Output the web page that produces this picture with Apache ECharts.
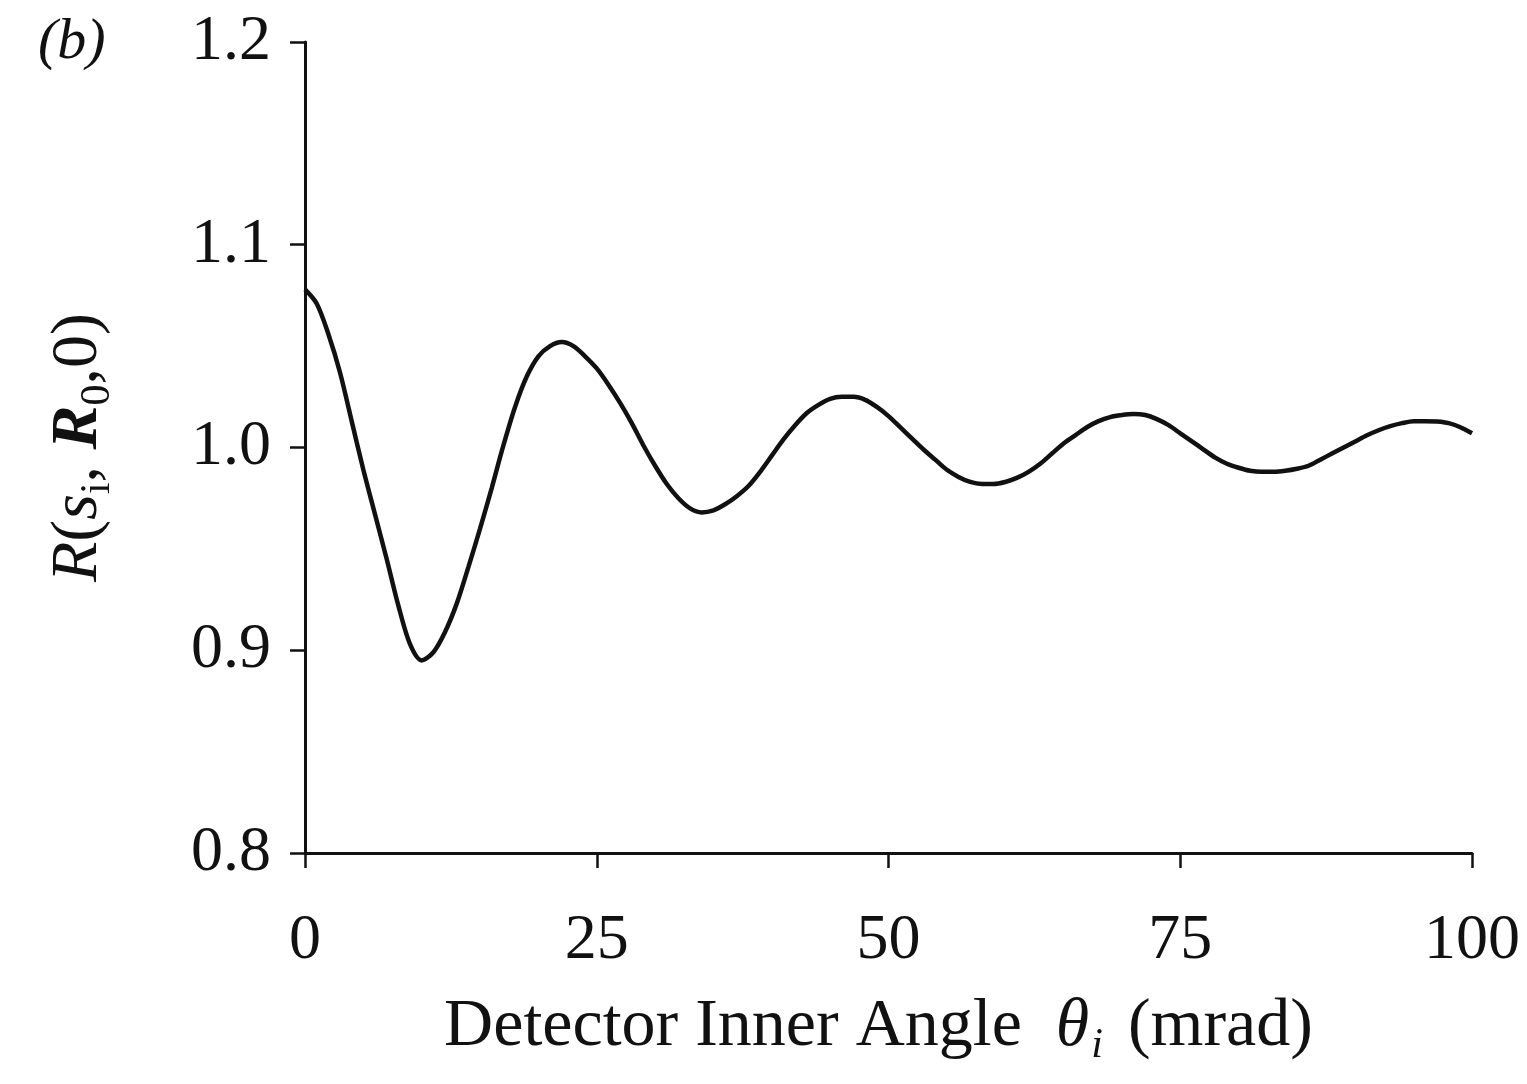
<!DOCTYPE html>
<html>
<head>
<meta charset="utf-8">
<title>R(s_i, R_0, 0) vs detector inner angle</title>
<script src="https://cdn.jsdelivr.net/npm/echarts@6/dist/echarts.min.js"></script>
<style>
  html, body { margin: 0; padding: 0; background: #ffffff; }
  #chart { width: 1527px; height: 1084px; }
</style>
</head>
<body>
<div id="chart"></div>
<script>
// Detector inner angle θi (mrad), one sample per mrad
const angle = [
  0, 1, 2, 3, 4, 5, 6, 7, 8, 9,
  10, 11, 12, 13, 14, 15, 16, 17, 18, 19,
  20, 21, 22, 23, 24, 25, 26, 27, 28, 29,
  30, 31, 32, 33, 34, 35, 36, 37, 38, 39,
  40, 41, 42, 43, 44, 45, 46, 47, 48, 49,
  50, 51, 52, 53, 54, 55, 56, 57, 58, 59,
  60, 61, 62, 63, 64, 65, 66, 67, 68, 69,
  70, 71, 72, 73, 74, 75, 76, 77, 78, 79,
  80, 81, 82, 83, 84, 85, 86, 87, 88, 89,
  90, 91, 92, 93, 94, 95, 96, 97, 98, 99,
  100
];
// R(s_i, R_0, 0) at each angle
const ratio = [
  1.078, 1.071, 1.056, 1.037, 1.013, 0.989, 0.967, 0.945, 0.922, 0.903,
  0.895, 0.899, 0.909, 0.923, 0.941, 0.960, 0.980, 1.001, 1.020, 1.035,
  1.045, 1.050, 1.052, 1.050, 1.045, 1.039, 1.031, 1.022, 1.012, 1.001,
  0.991, 0.982, 0.975, 0.970, 0.968, 0.969, 0.972, 0.976, 0.981, 0.988,
  0.996, 1.004, 1.011, 1.017, 1.021, 1.024, 1.025, 1.025, 1.0235, 1.020,
  1.0155, 1.010, 1.0045, 0.999, 0.994, 0.989, 0.9855, 0.983, 0.982, 0.982,
  0.983, 0.985, 0.988, 0.992, 0.997, 1.002, 1.006, 1.010, 1.013, 1.015,
  1.016, 1.0165, 1.016, 1.014, 1.011, 1.007, 1.003, 0.999, 0.995, 0.992,
  0.990, 0.9885, 0.988, 0.988, 0.9885, 0.9895, 0.991, 0.994, 0.997, 1.000,
  1.003, 1.006, 1.0085, 1.0105, 1.012, 1.013, 1.013, 1.0128, 1.012, 1.010,
  1.007
];
// Axis ticks
const xTicks = [0, 25, 50, 75, 100];
const yTicks = [0.8, 0.9, 1.0, 1.1, 1.2];

const serif = '"Liberation Serif", "DejaVu Serif", serif';
const ink = '#111111';

const chart = echarts.init(document.getElementById('chart'), null, { renderer: 'canvas' });

chart.setOption({
  backgroundColor: '#ffffff',
  animation: false,
  grid: { left: 305, right: 55, top: 42, bottom: 231 },
  graphic: [{
    type: 'text',
    left: 38,
    top: 14,
    style: {
      text: '(b)',
      fontFamily: serif,
      fontStyle: 'italic',
      fontSize: 58,
      fill: ink
    }
  }],
  xAxis: {
    type: 'value',
    min: xTicks[0],
    max: xTicks[xTicks.length - 1],
    interval: 25,
    axisLine: { show: true, onZero: false, lineStyle: { color: ink, width: 3 } },
    axisTick: { show: true, inside: false, length: 15, lineStyle: { color: ink, width: 2.5 } },
    splitLine: { show: false },
    axisLabel: {
      margin: 56,
      color: ink,
      fontFamily: serif,
      fontSize: 64,
      formatter: v => String(v)
    },
    name: '{t|Detector Inner Angle  }{th|θ}{sub|i}{end| (mrad)}',
    nameLocation: 'middle',
    nameGap: 134,
    nameTextStyle: {
      rich: {
        t:   { fontFamily: serif, fontSize: 68, color: ink, lineHeight: 80, verticalAlign: 'middle' },
        end: { fontFamily: serif, fontSize: 68, color: ink, lineHeight: 80, verticalAlign: 'middle', padding: [0, 20, 0, 0] },
        th:  { fontFamily: serif, fontSize: 68, fontStyle: 'italic', color: ink, lineHeight: 80, verticalAlign: 'middle' },
        sub: { fontFamily: serif, fontSize: 42, fontStyle: 'italic', color: ink, lineHeight: 80, verticalAlign: 'bottom', padding: [0, 8, 0, 2] }
      }
    }
  },
  yAxis: {
    type: 'value',
    min: yTicks[0],
    max: yTicks[yTicks.length - 1],
    interval: 0.1,
    axisLine: { show: true, onZero: false, lineStyle: { color: ink, width: 3 } },
    axisTick: { show: true, inside: false, length: 15, lineStyle: { color: ink, width: 2.5 } },
    splitLine: { show: false },
    axisLabel: {
      margin: 34,
      color: ink,
      fontFamily: serif,
      fontSize: 64,
      formatter: v => v.toFixed(1)
    },
    name: '{it|R}{t|(}{it|s}{sub|i}{t|, }{bi|R}{sub|0}{t|,0)}',
    nameLocation: 'middle',
    nameRotate: 90,
    nameGap: 186,
    nameTextStyle: {
      rich: {
        t:   { fontFamily: serif, fontSize: 66, color: ink, lineHeight: 80, verticalAlign: 'middle' },
        it:  { fontFamily: serif, fontSize: 66, fontStyle: 'italic', color: ink, lineHeight: 80, verticalAlign: 'middle' },
        bi:  { fontFamily: serif, fontSize: 66, fontStyle: 'italic', fontWeight: 'bold', color: ink, lineHeight: 80, verticalAlign: 'middle' },
        sub: { fontFamily: serif, fontSize: 42, color: ink, lineHeight: 80, verticalAlign: 'bottom' }
      }
    }
  },
  series: [{
    type: 'line',
    data: angle.map((a, i) => [a, ratio[i]]),
    smooth: 0.3,
    showSymbol: false,
    lineStyle: { color: ink, width: 4.5 },
    clip: false
  }]
});
</script>
</body>
</html>
